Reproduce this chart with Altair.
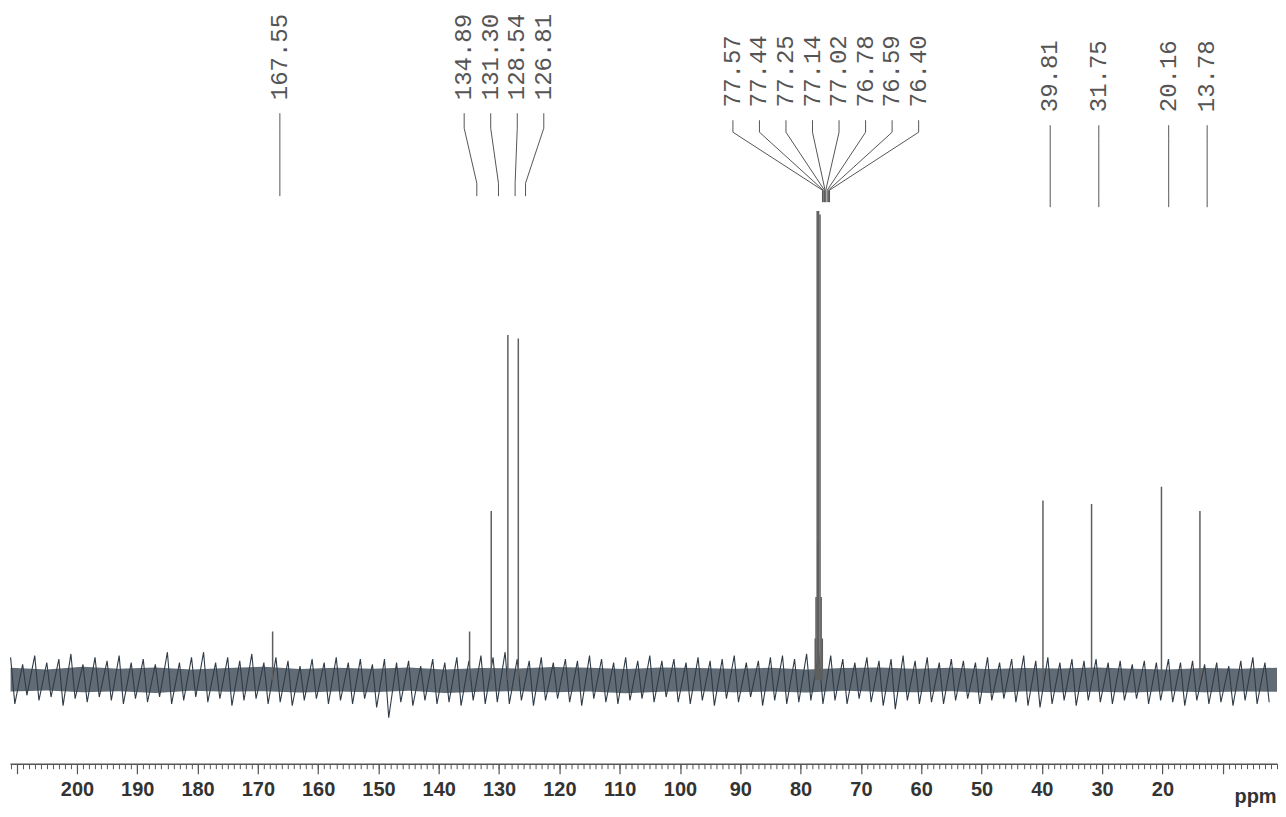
import altair as alt
import pandas as pd

# ---------------- data ----------------
peak_ppm = [167.55, 134.89, 131.30, 128.54, 126.81,
            77.57, 77.44, 77.25, 77.14, 77.02, 76.78, 76.59, 76.40,
            39.81, 31.75, 20.16, 13.78]
peak_labels = ["167.55", "134.89", "131.30", "128.54", "126.81",
               "77.57", "77.44", "77.25", "77.14", "77.02", "76.78", "76.59", "76.40",
               "39.81", "31.75", "20.16", "13.78"]
peak_height = [14, 14, 49, 100, 99,
               12, 24, 136, 40, 136, 135, 24, 12,
               52, 51, 56, 49]

# label groups (indices into the peak lists) and the tier they are printed in
label_groups = [[0], [1, 2, 3, 4], [5, 6, 7, 8, 9, 10, 11, 12], [13], [14], [15], [16]]
group_tier = ["upper", "upper", "middle", "lower", "lower", "lower", "lower"]

# baseline noise extremes, every 2 ppm from 211 down to 1
noise_ppm = list(range(211, 0, -2))
noise_hi = [6.5, 4.5, 7.0, 5.0, 6.0, 7.5, 4.5, 6.5, 5.5, 7.0,
            5.0, 6.0, 4.5, 8.0, 5.0, 6.5, 8.0, 5.0, 6.5, 5.5,
            7.5, 5.0, 6.5, 5.5, 4.0, 6.0, 5.0, 6.5, 5.0, 6.0,
            4.5, 6.0, 5.0, 5.5, 4.0, 6.0, 5.0, 6.5, 5.5, 7.0,
            6.5, 8.0, 6.0, 5.5, 6.5, 5.0, 6.0, 5.5, 7.0, 6.0,
            5.0, 6.5, 5.5, 7.0, 5.5, 6.0, 5.0, 6.5, 5.5, 6.0,
            7.0, 5.0, 5.5, 6.5, 7.0, 6.0, 7.5, 8.0, 7.0, 6.0,
            5.0, 6.5, 5.5, 6.0, 7.0, 5.5, 6.5, 5.0, 6.0, 5.5,
            5.0, 6.5, 5.0, 6.0, 7.0, 5.5, 6.5, 5.0, 6.0, 5.5,
            6.0, 5.0, 5.5, 4.5, 5.5, 5.0, 6.0, 5.0, 5.5, 4.5,
            5.0, 4.0, 5.5, 6.5, 5.0, 6.0]
noise_lo = [-7.0, -4.5, -6.0, -5.0, -7.5, -5.5, -6.5, -5.0, -6.0, -7.0,
            -5.5, -6.5, -5.0, -7.0, -6.0, -5.0, -6.5, -5.5, -7.5, -6.0,
            -5.5, -7.0, -6.5, -7.5, -6.0, -5.5, -7.0, -6.0, -7.0, -5.5,
            -8.0, -11.0, -6.5, -7.5, -6.0, -7.0, -6.5, -7.5, -6.0, -7.0,
            -6.5, -7.0, -6.0, -7.5, -6.0, -5.5, -6.5, -7.5, -5.5, -6.5,
            -7.0, -6.0, -5.5, -6.5, -5.0, -6.5, -7.0, -6.0, -7.5, -5.5,
            -6.5, -5.0, -7.5, -6.0, -7.0, -6.5, -6.0, -7.0, -6.0, -7.0,
            -5.5, -6.5, -7.5, -8.5, -6.0, -7.0, -6.5, -7.0, -6.0, -5.5,
            -7.0, -6.0, -5.5, -6.5, -7.5, -8.0, -7.0, -6.0, -7.5, -6.0,
            -6.5, -7.0, -6.0, -5.5, -7.0, -6.0, -6.5, -7.5, -6.0, -7.0,
            -6.5, -7.5, -6.0, -7.0, -6.5, -5.5]

# dense core of the noise, every 6 ppm from 211 down to 1
core_ppm = list(range(211, 0, -6))
core_hi = [3.5, 3.0, 3.8, 3.2, 3.6, 3.0, 3.4, 3.8, 3.1, 3.5, 3.2, 3.6,
           3.0, 3.4, 3.3, 3.7, 3.5, 3.1, 3.6, 3.4, 3.2, 3.5, 3.0, 3.4,
           3.6, 3.2, 3.5, 3.1, 3.4, 3.3, 3.6, 3.2, 3.0, 3.4, 3.2, 3.5]
core_lo = [-3.4, -3.1, -3.6, -3.3, -3.8, -3.2, -3.5, -3.3, -3.7, -3.4, -3.6, -3.2,
           -3.8, -3.5, -3.3, -3.6, -3.4, -3.9, -3.5, -3.3, -3.6, -3.4, -3.7, -3.2,
           -3.5, -3.6, -3.3, -3.8, -3.4, -3.6, -3.5, -3.7, -3.3, -3.6, -3.4, -3.5]

major_ticks = list(range(0, 220, 10))
minor_ticks = list(range(1, 212))

# ---------------- layout constants ----------------
W, H = 1268, 756
X_DOMAIN = [211.1, 1.0]
Y_DOMAIN = [-24.35, 194.8]
LABEL_SHIFT = 1.2      # ppm offset of the annotation block (scan skew)
LABEL_SPACING = 4.4    # ppm between neighbouring labels in a group
ZIG_STEP = 0.7         # ppm between an upper and the following lower extreme
TIERS = {
    "upper": dict(text_end=92, y1=105, y2=120, y3=175, y4=188),
    "middle": dict(text_end=99, y1=112, y2=124, y3=182, y4=194),
    "lower": dict(text_end=104, y1=117, y2=130, y3=185, y4=199),
}
INK = "#555555"

# ---------------- tables ----------------
zig_rows = []
for p, hi, lo in zip(noise_ppm, noise_hi, noise_lo):
    if p - ZIG_STEP < X_DOMAIN[1]:
        continue
    zig_rows.append({"ppm": p, "v": hi})
    zig_rows.append({"ppm": p - ZIG_STEP, "v": lo})
zig_df = pd.DataFrame(zig_rows)
core_df = pd.DataFrame({"ppm": core_ppm, "hi": core_hi, "lo": core_lo})
peaks_df = pd.DataFrame({"ppm": peak_ppm, "height": peak_height, "base": [0] * len(peak_ppm)})

conn_rows, text_rows = [], []
for members, tier in zip(label_groups, group_tier):
    g = TIERS[tier]
    n = len(members)
    center = sum(peak_ppm[i] for i in members) / n - LABEL_SHIFT
    for k, i in enumerate(members):
        lx = center + ((n - 1) / 2 - k) * LABEL_SPACING
        px = peak_ppm[i] - LABEL_SHIFT
        lab = peak_labels[i]
        for order, (xx, yy) in enumerate([(lx, g["y1"]), (lx, g["y2"]), (px, g["y3"]), (px, g["y4"])]):
            conn_rows.append({"label": lab, "order": order, "x": xx, "y": yy})
        text_rows.append({"label": lab, "x": lx, "y": g["text_end"]})
conn_df = pd.DataFrame(conn_rows)
text_df = pd.DataFrame(text_rows)

xscale = alt.Scale(domain=X_DOMAIN, nice=False, zero=False)
yscale = alt.Scale(domain=Y_DOMAIN, nice=False, zero=False)

major_axis = alt.Axis(
    orient="bottom",
    values=major_ticks, tickSize=10, tickWidth=1.2, tickColor=INK,
    domain=True, domainColor=INK, domainWidth=1.5, grid=False,
    labelExpr="datum.value >= 20 && datum.value <= 200 ? datum.label : ''",
    labelFont="Liberation Sans", labelFontWeight="bold", labelFontSize=20,
    labelColor="#333333", labelPadding=6, labelOverlap=False, labelFlush=False,
    title="ppm", titleFont="Liberation Sans", titleFontWeight="bold",
    titleFontSize=20, titleColor="#333333", titleX=1246, titleY=39,
    titleAlign="center", titleBaseline="alphabetic", titleAngle=0,
)
minor_axis = alt.Axis(
    orient="bottom",
    values=minor_ticks, tickSize=5, tickWidth=1, tickColor=INK,
    domain=False, labels=False, grid=False, title=None,
)

core = alt.Chart(core_df).mark_area(color="#3a4653", opacity=0.8, clip=True).encode(
    x=alt.X("ppm:Q", scale=xscale, axis=major_axis),
    y=alt.Y("hi:Q", scale=yscale, axis=None),
    y2="lo:Q",
)
zig = alt.Chart(zig_df).mark_line(color="#2f3b47", strokeWidth=1.1, clip=True).encode(
    x=alt.X("ppm:Q", scale=xscale, axis=None),
    y=alt.Y("v:Q", scale=yscale, axis=None),
)
peaks = alt.Chart(peaks_df).mark_rule(color="#5f5f5f", strokeWidth=1.5, clip=True).encode(
    x=alt.X("ppm:Q", scale=xscale, axis=minor_axis),
    y=alt.Y("base:Q", scale=yscale, axis=None),
    y2="height:Q",
)
connectors = alt.Chart(conn_df).mark_line(color=INK, strokeWidth=1).encode(
    x=alt.X("x:Q", scale=xscale, axis=None),
    y=alt.Y("y:Q", scale=None, axis=None),
    detail="label:N",
    order="order:Q",
)
labels = alt.Chart(text_df).mark_text(
    angle=270, align="left", baseline="middle",
    font="Liberation Mono", fontSize=24, color=INK,
).encode(
    x=alt.X("x:Q", scale=xscale, axis=None),
    y=alt.Y("y:Q", scale=None, axis=None),
    text="label:N",
)

chart = alt.layer(core, zig, peaks, connectors, labels).resolve_axis(
    x="independent"
).properties(
    width=W, height=H,
    padding={"left": 2, "top": 0, "right": 0, "bottom": 0},
    background="white",
).configure_view(stroke=None)

chart.save("out.html", embed_options={"renderer": "svg", "actions": False})
